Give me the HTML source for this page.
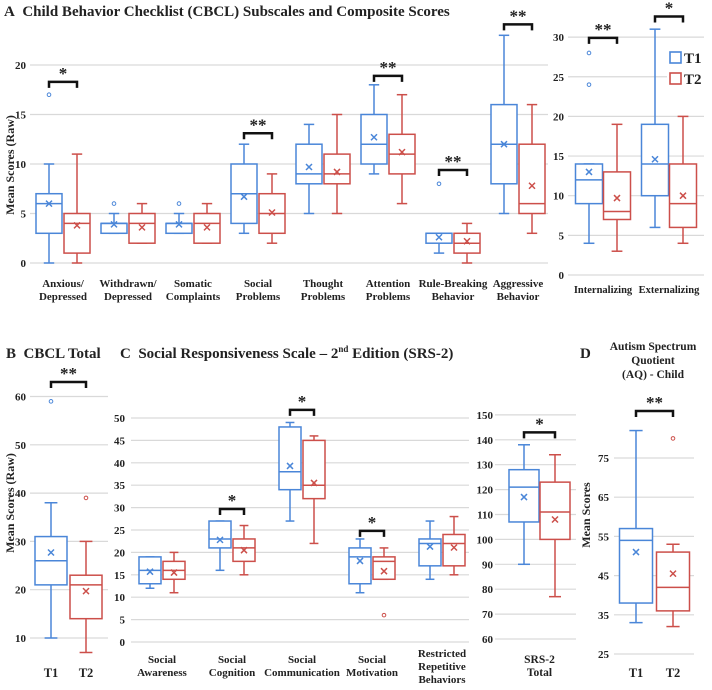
<!DOCTYPE html>
<html><head><meta charset="utf-8"><style>
html,body{margin:0;padding:0;background:#fff}
svg{display:block}
text{font-family:"Liberation Serif",serif;font-weight:bold;fill:#222}
</style></head><body>
<svg id="chart" width="712" height="690" viewBox="0 0 712 690" xmlns="http://www.w3.org/2000/svg">
<text x="4" y="16" font-size="15">A&#160;&#160;Child Behavior Checklist (CBCL) Subscales and Composite Scores</text>
<text x="6" y="358" font-size="15">B&#160;&#160;CBCL Total</text>
<text x="120" y="358" font-size="15">C&#160;&#160;Social Responsiveness Scale – 2<tspan font-size="9" dy="-6">nd</tspan><tspan dy="6"> Edition (SRS-2)</tspan></text>
<text x="580" y="358" font-size="15">D</text>
<text x="653" y="350" font-size="11.5" text-anchor="middle">Autism Spectrum<tspan x="653" dy="14">Quotient</tspan><tspan x="653" dy="14">(AQ) - Child</tspan></text>
<text transform="translate(14,165) rotate(-90)" font-size="12" text-anchor="middle">Mean Scores (Raw)</text>
<text transform="translate(14,503) rotate(-90)" font-size="12" text-anchor="middle">Mean Scores (Raw)</text>
<text transform="translate(590,515) rotate(-90)" font-size="12" text-anchor="middle">Mean Scores</text>
</svg>
<script>
// ---- Panel A (subscales) data ----
const cbclCats = ["Anxious/|Depressed","Withdrawn/|Depressed","Somatic|Complaints","Social|Problems","Thought|Problems","Attention|Problems","Rule-Breaking|Behavior","Aggressive|Behavior"];
const cbclT1 = [[0,3,6,7,10],[3,3,4,4,5],[3,3,4,4,5],[3,4,7,10,12],[5,8,9,12,14],[9,10,12,15,18],[1,2,3,3,3],[5,8,12,16,23]];
const cbclT2 = [[0,1,4,5,11],[2,2,4,5,6],[2,2,4,5,6],[2,3,5,7,9],[5,8,9,11,15],[6,9,11,13,17],[0,1,2,3,4],[3,5,6,12,16]];
const cbclT1Mean = [6,3.9,3.9,6.7,9.7,12.7,2.6,12];
const cbclT2Mean = [3.8,3.6,3.6,5.1,9.2,11.2,2.2,7.8];
const cbclT1Out = [[17],[6],[6],[],[],[],[8],[]];
const cbclT2Out = [[],[],[],[],[],[],[],[]];
const cbclSig = ["*","","","**","","**","**","**"];
const cbclSigY = [18.3,0,0,13.1,0,18.9,9.4,24.1];
const cbclTicks = [0,5,10,15,20];
// ---- Panel A (composites) ----
const compCats = ["Internalizing","Externalizing"];
const compT1 = [[4,9,12,14,14],[6,10,14,19,31]];
const compT2 = [[3,7,8,13,19],[4,6,9,14,20]];
const compT1Mean = [13,14.6];
const compT2Mean = [9.7,10];
const compT1Out = [[24,28],[]];
const compT2Out = [[],[]];
const compSig = ["**","*"];
const compSigY = [29.9,32.6];
const compTicks = [0,5,10,15,20,25,30];
// ---- Panel B ----
const totCats = ["T1|T2"];
const totT1 = [[10,21,26,31,38]];
const totT2 = [[7,14,21,23,30]];
const totT1Mean = [27.7];
const totT2Mean = [19.7];
const totT1Out = [[59]];
const totT2Out = [[39]];
const totSig = ["**"];
const totSigY = [63];
const totTicks = [10,20,30,40,50,60];
// ---- Panel C (subscales) ----
const srsCats = ["Social|Awareness","Social|Cognition","Social|Communication","Social|Motivation","Restricted|Repetitive|Behaviors"];
const srsT1 = [[12,13,16,19,19],[16,21,23,27,27],[27,34,38,48,49],[11,13,19,21,23],[14,17,22,23,27]];
const srsT2 = [[11,14,16,18,20],[15,18,21,23,26],[22,32,35,45,46],[14,14,18,19,21],[15,17,22,24,28]];
const srsT1Mean = [15.7,22.8,39.3,18.1,21.3];
const srsT2Mean = [15.5,20.5,35.5,15.8,21.1];
const srsT1Out = [[],[],[],[],[]];
const srsT2Out = [[],[],[],[6],[]];
const srsSig = ["","*","*","*",""];
const srsSigY = [0,29.7,51.8,24.8,0];
const srsTicks = [0,5,10,15,20,25,30,35,40,45,50];
// ---- Panel C (total) ----
const srsTotCats = ["SRS-2|Total"];
const srsTotT1 = [[90,107,121,128,138]];
const srsTotT2 = [[77,100,111,123,134]];
const srsTotT1Mean = [117];
const srsTotT2Mean = [108];
const srsTotT1Out = [[]];
const srsTotT2Out = [[]];
const srsTotSig = ["*"];
const srsTotSigY = [143];
const srsTotTicks = [60,70,80,90,100,110,120,130,140,150];
// ---- Panel D ----
const aqCats = ["T1|T2"];
const aqT1 = [[33,38,54,57,82]];
const aqT2 = [[32,36,42,51,53]];
const aqT1Mean = [51];
const aqT2Mean = [45.5];
const aqT1Out = [[]];
const aqT2Out = [[80]];
const aqSig = ["**"];
const aqSigY = [87];
const aqTicks = [25,35,45,55,65,75];

const NS = "http://www.w3.org/2000/svg";
const svg = document.getElementById("chart");
const BLUE = "#4a86d8", RED = "#cc4f4a";
function mk(tag, attrs, parent){
  const e = document.createElementNS(NS, tag);
  for (const k in attrs) e.setAttribute(k, attrs[k]);
  (parent||svg).appendChild(e);
  return e;
}
function panel(cfg){
  const g = mk("g", {});
  
  
  const y = v => cfg.y0 - (v - cfg.v0) * cfg.k;
  cfg.ticks.forEach(t => {
    const l = mk("line", {x1:cfg.gx[0], x2:cfg.gx[1], y1:y(t), y2:y(t), stroke:"#d9d9d9", "stroke-width":1.2}, g);
    
    
    const tx = mk("text", {x:cfg.tx, y:y(t)+4, "font-size":11, "text-anchor":"end"}, g);
    tx.textContent = t;
    
    
  });
  cfg.cats.forEach((c, i) => {
    const cx = cfg.cx0 + i * cfg.step;
    const series = [[cfg.t1[i], cfg.m1[i], cfg.o1[i], BLUE, cx - cfg.off, "t1"], [cfg.t2[i], cfg.m2[i], cfg.o2[i], RED, cx + cfg.off, "t2"]];
    series.forEach(s => {
      const [st, mean, outs, col, x, tag] = s;
      const bg = mk("g", {stroke:col, "stroke-width":1.5, fill:"none"}, g);
      
      
      const hw = cfg.w / 2, cw = cfg.w / 5;
      mk("line", {x1:x, x2:x, y1:y(st[0]), y2:y(st[1])}, bg);
      mk("line", {x1:x, x2:x, y1:y(st[3]), y2:y(st[4])}, bg);
      mk("line", {x1:x-cw, x2:x+cw, y1:y(st[0]), y2:y(st[0])}, bg);
      mk("line", {x1:x-cw, x2:x+cw, y1:y(st[4]), y2:y(st[4])}, bg);
      mk("rect", {x:x-hw, y:y(st[3]), width:cfg.w, height:Math.max(0.5, y(st[1]) - y(st[3])), fill:"#fff"}, bg);
      mk("line", {x1:x-hw, x2:x+hw, y1:y(st[2]), y2:y(st[2])}, bg);
      const my = y(mean), r = 3;
      mk("path", {d:`M${x-r},${my-r}L${x+r},${my+r}M${x+r},${my-r}L${x-r},${my+r}`}, bg);
      outs.forEach(o => {
        const c2 = mk("circle", {cx:x, cy:y(o), r:1.8, "stroke-width":1}, g);
        c2.setAttribute('stroke', col);
        c2.setAttribute('fill', 'none');
        
        
      });
    });
    if (cfg.sig[i]) {
      const by = y(cfg.sigY[i]), xa = cx - cfg.off, xb = cx + cfg.off;
      const br = mk("path", {d:`M${xa},${by+6}L${xa},${by}L${xb},${by}L${xb},${by+6}`, stroke:"#111", "stroke-width":2.5, fill:"none"}, g);
      
      
      const st = mk("text", {x:cx, y:by-3, "font-size":17, "text-anchor":"middle", "font-weight":"normal"}, g);
      st.textContent = cfg.sig[i];
      
      
    }
    if (cfg.pairLabels) {
      c.split("|").forEach((p, j) => {
        const lt = mk("text", {x:cx + (j ? cfg.off : -cfg.off), y:cfg.ly, "font-size":12.5, "text-anchor":"middle"}, g);
        lt.textContent = p;
        
        
      });
    } else {
      const lines = c.split("|");
      const base = cfg.ly - (lines.length > 2 ? 6 : 0);
      lines.forEach((p, j) => {
        const lt = mk("text", {x:cx, y:base + j * 13, "font-size":cfg.fs || 11.5, "text-anchor":"middle"}, g);
        lt.textContent = p;
        
        
      });
    }
  });
}
panel({name:"panel-a-subscales", cats:cbclCats, t1:cbclT1, t2:cbclT2, m1:cbclT1Mean, m2:cbclT2Mean, o1:cbclT1Out, o2:cbclT2Out, sig:cbclSig, sigY:cbclSigY, ticks:cbclTicks,
  y0:263, v0:0, k:9.9, gx:[30,548], tx:26, cx0:63, step:65, off:14, w:26, ly:287, fs:11});
panel({name:"panel-a-composites", cats:compCats, t1:compT1, t2:compT2, m1:compT1Mean, m2:compT2Mean, o1:compT1Out, o2:compT2Out, sig:compSig, sigY:compSigY, ticks:compTicks,
  y0:275, v0:0, k:7.93, gx:[568,704], tx:564, cx0:603, step:66, off:14, w:27, ly:293, fs:10.5});
panel({name:"panel-b-cbcl-total", cats:totCats, t1:totT1, t2:totT2, m1:totT1Mean, m2:totT2Mean, o1:totT1Out, o2:totT2Out, sig:totSig, sigY:totSigY, ticks:totTicks,
  y0:638, v0:10, k:4.83, gx:[30,108], tx:26, cx0:68.5, step:0, off:17.5, w:32, ly:677, pairLabels:true});
panel({name:"panel-c-srs-subscales", cats:srsCats, t1:srsT1, t2:srsT2, m1:srsT1Mean, m2:srsT2Mean, o1:srsT1Out, o2:srsT2Out, sig:srsSig, sigY:srsSigY, ticks:srsTicks,
  y0:642, v0:0, k:4.48, gx:[131,469], tx:125, cx0:162, step:70, off:12, w:22, ly:663, fs:11});
panel({name:"panel-c-srs-total", cats:srsTotCats, t1:srsTotT1, t2:srsTotT2, m1:srsTotT1Mean, m2:srsTotT2Mean, o1:srsTotT1Out, o2:srsTotT2Out, sig:srsTotSig, sigY:srsTotSigY, ticks:srsTotTicks,
  y0:639, v0:60, k:2.49, gx:[495,576], tx:493, cx0:539.5, step:0, off:15.5, w:30, ly:663});
panel({name:"panel-d-aq-child", cats:aqCats, t1:aqT1, t2:aqT2, m1:aqT1Mean, m2:aqT2Mean, o1:aqT1Out, o2:aqT2Out, sig:aqSig, sigY:aqSigY, ticks:aqTicks,
  y0:654, v0:25, k:3.92, gx:[614,694], tx:609, cx0:654.5, step:0, off:18.5, w:33, ly:677, pairLabels:true});

// legend (drawn last, with white background over gridlines)
const lg = mk("g", {});


mk("rect", {x:667, y:48, width:40, height:40, fill:"#fff"}, lg);
const s1 = mk("rect", {x:670, y:52, width:11, height:11, fill:"none", stroke:BLUE, "stroke-width":1.6}, lg);


const l1 = mk("text", {x:684, y:63, "font-size":15}, lg);
l1.textContent = "T1";


const s2 = mk("rect", {x:670, y:73, width:11, height:11, fill:"none", stroke:RED, "stroke-width":1.6}, lg);


const l2 = mk("text", {x:684, y:84, "font-size":15}, lg);
l2.textContent = "T2";


</script>
</body></html>
